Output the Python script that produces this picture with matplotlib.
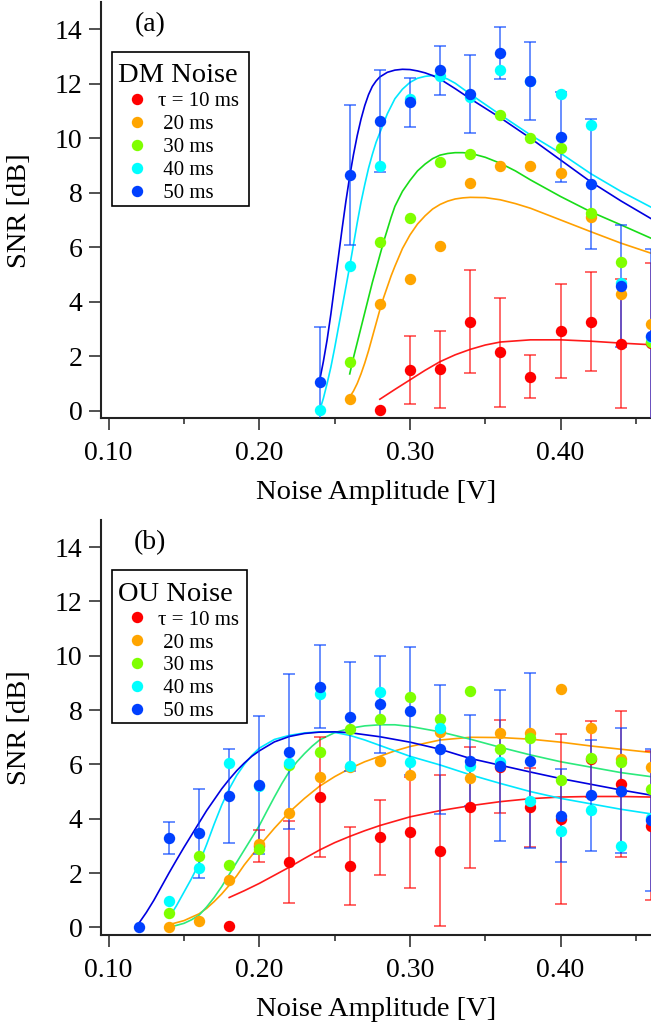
import numpy as np
import matplotlib
matplotlib.use("Agg")
import matplotlib.pyplot as plt
from matplotlib.lines import Line2D
from matplotlib.patches import Rectangle
from matplotlib.ticker import MultipleLocator, FixedLocator, FixedFormatter

nan = np.nan

# ---------------- (a) DM noise ----------------
x_dm = [0.24, 0.26, 0.28, 0.30, 0.32, 0.34, 0.36, 0.38, 0.40, 0.42, 0.44, 0.46]
dm_snr_10 = [nan, nan, 0.03, 1.49, 1.52, 3.27, 2.14, 1.25, 2.93, 3.27, 2.45, 2.47]
dm_snr_20 = [nan, 0.43, 3.92, 4.83, 6.06, 8.37, 8.98, 8.98, 8.71, 7.10, 4.28, 3.17]
dm_snr_30 = [nan, 1.78, 6.20, 7.06, 9.12, 9.41, 10.86, 10.00, 9.63, 7.25, 5.46, 2.53]
dm_snr_40 = [0.03, 5.31, 8.97, 11.45, 12.29, 11.53, 12.51, 12.09, 11.64, 10.48, 4.70, 2.70]
dm_snr_50 = [1.06, 8.65, 10.63, 11.32, 12.50, 11.62, 13.12, 12.09, 10.05, 8.32, 4.58, 2.74]
dm_err_10 = [nan, nan, nan, 1.26, 1.42, 1.90, 2.00, 0.80, 1.72, 1.81, 2.37, 2.94]
dm_err_50 = [2.00, 2.58, 1.86, 0.90, 0.90, 1.44, 0.95, 1.43, 1.65, 2.37, 2.23, 3.20]

# fitted curves, (a)
fit_dm_10_x = [0.28, 0.29, 0.30, 0.31, 0.32, 0.33, 0.34, 0.35, 0.36, 0.38, 0.40, 0.42, 0.44, 0.46]
fit_dm_10_y = [0.42, 0.78, 1.13, 1.48, 1.80, 2.05, 2.25, 2.41, 2.52, 2.60, 2.60, 2.55, 2.48, 2.42]
fit_dm_20_x = [0.26, 0.2625, 0.265, 0.2675, 0.27, 0.2725, 0.275, 0.2775, 0.28, 0.2825,
               0.285, 0.2875, 0.29, 0.295, 0.30, 0.305, 0.31, 0.315, 0.32, 0.325, 0.33,
               0.335, 0.34, 0.35, 0.36, 0.37, 0.38, 0.40, 0.42, 0.44, 0.46]
fit_dm_20_y = [0.50, 0.72, 1.00, 1.35, 1.75, 2.20, 2.70, 3.20, 3.70, 4.15,
               4.55, 4.95, 5.30, 5.95, 6.45, 6.85, 7.15, 7.40, 7.57, 7.69, 7.77,
               7.81, 7.83, 7.82, 7.74, 7.60, 7.43, 7.00, 6.57, 6.15, 5.78]
fit_dm_30_x = [0.26, 0.2625, 0.265, 0.2675, 0.27, 0.2725, 0.275, 0.2775, 0.28, 0.2825,
               0.285, 0.2875, 0.29, 0.295, 0.30, 0.305, 0.31, 0.315, 0.32, 0.325, 0.33,
               0.335, 0.34, 0.35, 0.36, 0.37, 0.38, 0.40, 0.42, 0.44, 0.46]
fit_dm_30_y = [1.35, 1.95, 2.50, 3.05, 3.60, 4.15, 4.70, 5.20, 5.70, 6.20,
               6.65, 7.10, 7.50, 8.05, 8.45, 8.80, 9.05, 9.25, 9.38, 9.44, 9.47,
               9.47, 9.45, 9.30, 9.08, 8.80, 8.47, 7.86, 7.30, 6.82, 6.33]
fit_dm_40_x = [0.24, 0.2425, 0.245, 0.2475, 0.25, 0.2525, 0.255, 0.2575, 0.26, 0.2625,
               0.265, 0.2675, 0.27, 0.2725, 0.275, 0.2775, 0.28, 0.2825, 0.285, 0.29,
               0.295, 0.30, 0.305, 0.31, 0.315, 0.32, 0.325, 0.33, 0.34, 0.35, 0.36,
               0.38, 0.40, 0.42, 0.44, 0.46]
fit_dm_40_y = [0.00, 0.45, 1.00, 1.60, 2.30, 3.05, 3.80, 4.55, 5.30, 6.10,
               6.90, 7.65, 8.30, 8.90, 9.40, 9.85, 10.20, 10.55, 10.90, 11.45,
               11.80, 12.05, 12.20, 12.27, 12.30, 12.27, 12.17, 12.02, 11.62, 11.24, 10.86,
               10.12, 9.45, 8.70, 8.05, 7.47]
fit_dm_50_x = [0.24, 0.2425, 0.245, 0.2475, 0.25, 0.2525, 0.255, 0.2575, 0.26, 0.2625,
               0.265, 0.2675, 0.27, 0.2725, 0.275, 0.2775, 0.28, 0.285, 0.29, 0.295,
               0.30, 0.305, 0.31, 0.315, 0.32, 0.33, 0.34, 0.35, 0.36, 0.38, 0.40,
               0.42, 0.44, 0.46]
fit_dm_50_y = [1.10, 1.80, 2.60, 3.55, 4.60, 5.65, 6.70, 7.70, 8.60, 9.40,
               10.10, 10.70, 11.20, 11.60, 11.90, 12.10, 12.25, 12.42, 12.50, 12.53,
               12.52, 12.47, 12.40, 12.30, 12.17, 11.82, 11.45, 11.10, 10.75, 10.00, 9.20,
               8.40, 7.70, 7.05]

# ---------------- (b) OU noise ----------------
x_ou = [0.12, 0.14, 0.16, 0.18, 0.20, 0.22, 0.24, 0.26, 0.28, 0.30, 0.32, 0.34,
        0.36, 0.38, 0.40, 0.42, 0.44, 0.46]
ou_snr_10 = [nan, nan, nan, 0.05, 3.00, 2.40, 4.80, 2.25, 3.31, 3.50, 2.83, 4.42,
             5.92, 4.42, 3.99, 6.20, 5.28, 3.75]
ou_snr_20 = [nan, 0.00, 0.22, 1.75, 3.07, 4.21, 5.53, 5.90, 6.14, 5.62, 7.20, 5.49,
             7.15, 7.17, 8.79, 7.33, 6.20, 5.92]
ou_snr_30 = [nan, 0.54, 2.64, 2.31, 2.89, 5.98, 6.47, 7.29, 7.66, 8.49, 7.66, 8.70,
             6.57, 6.99, 5.43, 6.25, 6.08, 5.09]
ou_snr_40 = [nan, 0.99, 2.19, 6.04, 5.20, 6.04, 8.58, 5.95, 8.68, 6.10, 7.33, 5.95,
             6.10, 4.66, 3.56, 4.33, 2.98, 4.02]
ou_snr_50 = [0.00, 3.29, 3.47, 4.82, 5.25, 6.47, 8.86, 7.76, 8.21, 7.97, 6.56, 6.14,
             5.96, 6.14, 4.11, 4.86, 5.03, 3.96]
ou_err_10 = [nan, nan, nan, nan, 0.60, 1.50, 2.20, 1.43, 1.37, 2.05, 2.78, 2.23,
             1.72, 1.46, 3.14, 1.40, 2.70, 2.75]
ou_err_50 = [nan, 0.58, 1.64, 1.73, 2.55, 2.85, 1.52, 2.00, 1.78, 2.37, 2.38, 1.67,
             2.77, 3.22, 1.72, 2.04, 2.30, 2.62]

# fitted curves, (b)
fit_ou_10_x = [0.18, 0.19, 0.20, 0.21, 0.22, 0.23, 0.24, 0.25, 0.26, 0.27, 0.28, 0.30,
               0.32, 0.34, 0.36, 0.38, 0.40, 0.42, 0.44, 0.46]
fit_ou_10_y = [1.10, 1.35, 1.62, 1.92, 2.22, 2.54, 2.85, 3.12, 3.35, 3.56, 3.75, 4.07,
               4.30, 4.48, 4.63, 4.74, 4.80, 4.82, 4.82, 4.80]
fit_ou_20_x = [0.14, 0.15, 0.16, 0.165, 0.17, 0.175, 0.18, 0.185, 0.19, 0.195, 0.20,
               0.21, 0.22, 0.23, 0.24, 0.25, 0.26, 0.27, 0.28, 0.29, 0.30,
               0.32, 0.34, 0.36, 0.38, 0.40, 0.42, 0.44, 0.46]
fit_ou_20_y = [0.10, 0.25, 0.50, 0.70, 0.95, 1.23, 1.55, 1.90, 2.30, 2.65, 3.00,
               3.65, 4.25, 4.75, 5.20, 5.55, 5.85, 6.10, 6.30, 6.50, 6.66,
               6.90, 7.00, 6.99, 6.93, 6.82, 6.68, 6.56, 6.44]
fit_ou_30_x = [0.14, 0.15, 0.155, 0.16, 0.165, 0.17, 0.175, 0.18, 0.185, 0.19, 0.195,
               0.20, 0.205, 0.21, 0.215, 0.22, 0.225, 0.23, 0.235, 0.24, 0.25, 0.26,
               0.27, 0.28, 0.29, 0.30, 0.32, 0.34, 0.36, 0.38, 0.40, 0.42, 0.44, 0.46]
fit_ou_30_y = [0.00, 0.15, 0.28, 0.45, 0.75, 1.10, 1.50, 1.95, 2.40, 2.85, 3.30,
               3.75, 4.28, 4.80, 5.30, 5.75, 6.10, 6.40, 6.67, 6.90, 7.17, 7.33,
               7.42, 7.46, 7.46, 7.40, 7.20, 6.93, 6.63, 6.35, 6.10, 5.90, 5.70, 5.55]
fit_ou_40_x = [0.14, 0.145, 0.15, 0.155, 0.16, 0.165, 0.17, 0.175, 0.18, 0.185, 0.19,
               0.195, 0.20, 0.21, 0.22, 0.23, 0.24, 0.25, 0.26, 0.27, 0.28, 0.30,
               0.32, 0.34, 0.36, 0.38, 0.40, 0.42, 0.44, 0.46]
fit_ou_40_y = [0.35, 0.80, 1.30, 1.80, 2.35, 3.05, 3.80, 4.50, 5.10, 5.60, 6.00,
               6.33, 6.60, 6.92, 7.07, 7.16, 7.20, 7.18, 7.07, 6.90, 6.70, 6.30,
               5.98, 5.62, 5.30, 5.00, 4.75, 4.55, 4.35, 4.18]
fit_ou_50_x = [0.12, 0.125, 0.13, 0.135, 0.14, 0.145, 0.15, 0.155, 0.16, 0.165, 0.17,
               0.175, 0.18, 0.185, 0.19, 0.195, 0.20, 0.21, 0.22, 0.23, 0.24, 0.25,
               0.26, 0.28, 0.30, 0.32, 0.34, 0.36, 0.38, 0.40, 0.42, 0.44, 0.46]
fit_ou_50_y = [0.15, 0.55, 1.00, 1.50, 2.00, 2.48, 2.95, 3.40, 3.85, 4.30, 4.70,
               5.10, 5.45, 5.77, 6.05, 6.30, 6.50, 6.83, 7.03, 7.14, 7.19, 7.20,
               7.17, 7.02, 6.82, 6.56, 6.22, 5.97, 5.72, 5.48, 5.27, 5.06, 4.87]

legend_labels = ["\u03c4 = 10 ms", " 20 ms", " 30 ms", " 40 ms", " 50 ms"]
x_ticks = [0.10, 0.20, 0.30, 0.40]
x_tick_labels = ["0.10", "0.20", "0.30", "0.40"]

# ---------------- styling ----------------
plt.rcParams["font.family"] = ["Liberation Serif", "DejaVu Serif"]

dot_colors = ["#ff0000", "#ffa500", "#7fff00", "#00ffff", "#0040ff"]
fit_colors_a = ["#ff1a1a", "#ffa000", "#18dc18", "#00e8ff", "#0000e0"]
fit_colors_b = ["#ff1a1a", "#ffa000", "#2cea7c", "#00e8ff", "#0000e0"]
axis_color = "#222222"

W, H = 651, 1027
fig = plt.figure(figsize=(W / 100, H / 100), dpi=100)

left = 100.7 / W
width = 1.0 - left
ax_a = fig.add_axes([left, 1 - 418.3 / H, width, (418.3 - 2.0) / H])
ax_b = fig.add_axes([left, 1 - 935.0 / H, width, (935.0 - 520.0) / H])


def px_to_fig(x, y):
    return x / W, 1 - y / H


def style_axes(ax, panel_label, legend_title, box):
    ax.set_xlim(0.0947, 0.46)
    ax.set_ylim(-0.28, 15.0)
    for side in ("top", "right"):
        ax.spines[side].set_visible(False)
    for side in ("left", "bottom"):
        ax.spines[side].set_color(axis_color)
        ax.spines[side].set_linewidth(1.5)
    ax.xaxis.set_major_locator(FixedLocator(x_ticks))
    ax.xaxis.set_major_formatter(FixedFormatter(x_tick_labels))
    ax.xaxis.set_minor_locator(FixedLocator([0.15, 0.25, 0.35, 0.45]))
    ax.yaxis.set_major_locator(MultipleLocator(2))
    ax.tick_params(which="major", direction="out", length=8.6, width=1.1,
                   color=axis_color, labelsize=20, labelcolor="black")
    ax.tick_params(axis="x", which="major", pad=8)
    ax.tick_params(axis="y", which="major", pad=4.5)
    ax.tick_params(which="minor", axis="x", direction="out", length=4.3, width=1.1,
                   color=axis_color)
    ax.set_xlabel("Noise Amplitude [V]", fontsize=20.5, labelpad=10)
    ax.set_ylabel("SNR [dB]", fontsize=20.5)
    ax.yaxis.set_label_coords(-0.147, 0.5)
    ax.yaxis.label.set_verticalalignment("center")
    ax.text(0.0896, 0.945, panel_label, transform=ax.transAxes, fontsize=20,
            ha="center", va="center")

    # legend entries without a frame; the box is drawn separately
    x0, y0, x1, y1 = box
    handles = [Line2D([], [], linestyle="none", marker="o", markersize=8.2,
                      markerfacecolor=c, markeredgewidth=0) for c in dot_colors]
    fx, fy = px_to_fig(x0, y0 + 5.5)
    ax.legend(handles, legend_labels, title=legend_title, loc="upper left",
              bbox_to_anchor=(fx, fy), bbox_transform=fig.transFigure,
              borderaxespad=0.0, fontsize=15, title_fontsize=20.5, frameon=False,
              handlelength=1.8, handletextpad=0.1, labelspacing=0.16,
              borderpad=0.3, alignment="left")
    bx, by = px_to_fig(x0, y1)
    fig.patches.append(Rectangle((bx, by), (x1 - x0) / W, (y1 - y0) / H,
                                 transform=fig.transFigure, fill=False,
                                 edgecolor="black", linewidth=1.2, zorder=10))


def draw_panel(ax, xs, series, errs, fits, fit_colors):
    # fitted curves underneath the data
    for (fx, fy), c in zip(fits, fit_colors):
        ax.plot(fx, fy, color=c, lw=1.2, zorder=2, clip_on=True)
    # error bars for the 10 ms and 50 ms data
    for idx, e in errs.items():
        ax.errorbar(xs, series[idx], yerr=e, fmt="none", ecolor=dot_colors[idx],
                    alpha=0.75, elinewidth=1.1, capsize=4.3, capthick=1.1, zorder=3)
    for y, c in zip(series, dot_colors):
        ax.plot(xs, y, linestyle="none", marker="o", markersize=8.2,
                markerfacecolor=c, markeredgewidth=0, zorder=4, clip_on=True)


draw_panel(ax_a, x_dm,
           [dm_snr_10, dm_snr_20, dm_snr_30, dm_snr_40, dm_snr_50],
           {0: dm_err_10, 4: dm_err_50},
           [(fit_dm_10_x, fit_dm_10_y), (fit_dm_20_x, fit_dm_20_y),
            (fit_dm_30_x, fit_dm_30_y), (fit_dm_40_x, fit_dm_40_y),
            (fit_dm_50_x, fit_dm_50_y)],
           fit_colors_a)
draw_panel(ax_b, x_ou,
           [ou_snr_10, ou_snr_20, ou_snr_30, ou_snr_40, ou_snr_50],
           {0: ou_err_10, 4: ou_err_50},
           [(fit_ou_10_x, fit_ou_10_y), (fit_ou_20_x, fit_ou_20_y),
            (fit_ou_30_x, fit_ou_30_y), (fit_ou_40_x, fit_ou_40_y),
            (fit_ou_50_x, fit_ou_50_y)],
           fit_colors_b)

style_axes(ax_a, "(a)", "DM Noise", (111.7, 51.7, 249.3, 206.0))
style_axes(ax_b, "(b)", "OU Noise", (111.7, 570.0, 247.0, 722.7))

fig.savefig("out.png", dpi=100)
